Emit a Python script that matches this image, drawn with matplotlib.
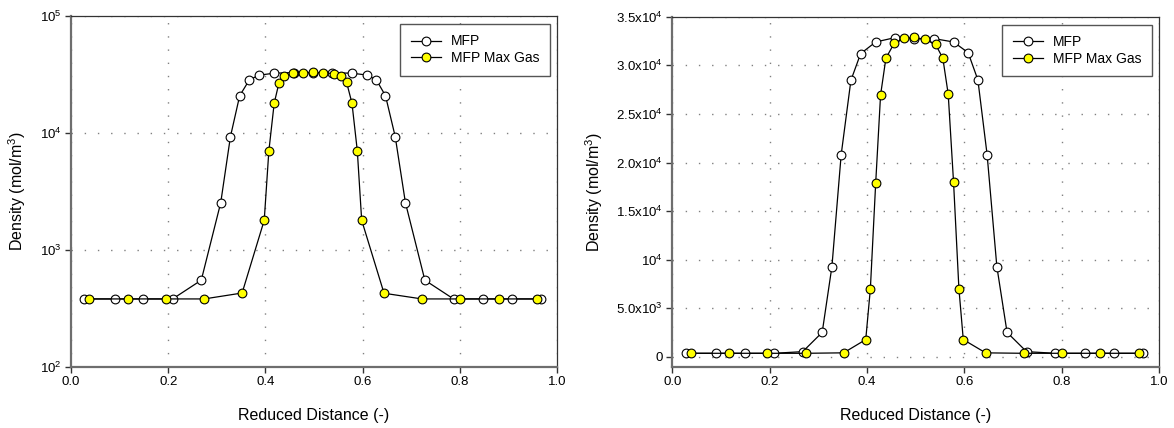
import matplotlib
matplotlib.use('Agg')
import matplotlib.pyplot as plt
import numpy as np

plt.rcParams['font.family'] = ['Liberation Sans', 'DejaVu Sans']
plt.rcParams['mathtext.fontset'] = 'custom'
plt.rcParams['mathtext.rm'] = 'Liberation Sans'
plt.rcParams['mathtext.it'] = 'Liberation Sans:italic'
plt.rcParams['mathtext.bf'] = 'Liberation Sans:bold'

# MFP profile
x_mfp = [0.0275, 0.090, 0.149, 0.209, 0.268, 0.308, 0.328, 0.347, 0.367, 0.387,
         0.418, 0.458, 0.497, 0.537, 0.578, 0.608, 0.628, 0.647, 0.667, 0.688,
         0.728, 0.787, 0.848, 0.907, 0.9675]
rho_mfp = [380, 380, 380, 380, 550, 2530, 9300, 20800, 28450, 31200,
           32400, 32850, 32700, 32750, 32400, 31300, 28500, 20800, 9300, 2530,
           550, 380, 380, 380, 380]

# MFP Max Gas profile
x_max = [0.038, 0.1165, 0.195, 0.274, 0.352, 0.3975, 0.407, 0.418, 0.428, 0.439,
         0.456, 0.477, 0.497, 0.519, 0.541, 0.556, 0.567, 0.578, 0.589, 0.598,
         0.644, 0.722, 0.801, 0.880, 0.9587]
rho_max = [380, 380, 380, 380, 427, 1790, 6990, 17930, 26950, 30740,
           32260, 32780, 32880, 32670, 32160, 30720, 27040, 17980, 7040, 1790,
           425, 380, 380, 380, 380]

x_ticks = [0.0, 0.2, 0.4, 0.6, 0.8, 1.0]
x_tick_labels = ['0.0', '0.2', '0.4', '0.6', '0.8', '1.0']
log_ticks = [1e2, 1e3, 1e4, 1e5]
log_tick_labels = ['10$^2$', '10$^3$', '10$^4$', '10$^5$']
lin_ticks = [0, 5000, 10000, 15000, 20000, 25000, 30000, 35000]
lin_tick_labels = ['0', '5.0x10$^3$', '10$^4$', '1.5x10$^4$', '2.0x10$^4$',
                   '2.5x10$^4$', '3.0x10$^4$', '3.5x10$^4$']


def style_axes(ax):
    for side in ['left', 'bottom']:
        ax.spines[side].set_color('#6e6e6e')
        ax.spines[side].set_linewidth(1.6)
    for side in ['top', 'right']:
        ax.spines[side].set_color('#333333')
        ax.spines[side].set_linewidth(0.9)
    ax.tick_params(which='major', direction='out', length=4, width=1,
                   color='#333333', labelsize=9.5, pad=3)
    ax.tick_params(which='minor', length=0)
    ax.grid(True, which='major', color='#808080', linestyle=(0, (1, 8.5)),
            linewidth=1.0)
    ax.set_xlim(0, 1)
    ax.set_xticks(x_ticks)
    ax.set_xticklabels(x_tick_labels)
    ax.set_xlabel('Reduced Distance (-)', fontsize=11.5, labelpad=14)
    ax.set_ylabel('Density (mol/m$^3$)', fontsize=11.5, labelpad=8)


def draw(ax):
    ax.plot(x_mfp, rho_mfp, '-o', color='black', lw=0.9, ms=6.3,
            mfc='white', mec='black', mew=0.8, label='MFP', zorder=3)
    ax.plot(x_max, rho_max, '-o', color='black', lw=0.9, ms=6.3,
            mfc='#ffff00', mec='black', mew=0.8, label='MFP Max Gas', zorder=4)
    leg = ax.legend(loc='upper right', fontsize=10, handlelength=2.2,
                    borderpad=0.75, borderaxespad=0, fancybox=False,
                    framealpha=1, edgecolor='#555555',
                    bbox_to_anchor=(0.9856, 0.977),
                    labelspacing=0.2, handletextpad=0.7)
    leg.get_frame().set_linewidth(1.0)


fig = plt.figure(figsize=(11.74, 4.28), dpi=100)

ax1 = fig.add_axes([0.0605, 0.1432, 0.414, 0.8194])
draw(ax1)
ax1.set_yscale('log')
ax1.set_ylim(1e2, 1e5)
style_axes(ax1)
ax1.set_yticks(log_ticks)
ax1.set_yticklabels(log_tick_labels)

ax2 = fig.add_axes([0.5727, 0.1432, 0.4144, 0.8178])
draw(ax2)
ax2.set_ylim(-1000, 35000)
style_axes(ax2)
ax2.set_yticks(lin_ticks)
ax2.set_yticklabels(lin_tick_labels)

fig.savefig('out.png', dpi=100)
